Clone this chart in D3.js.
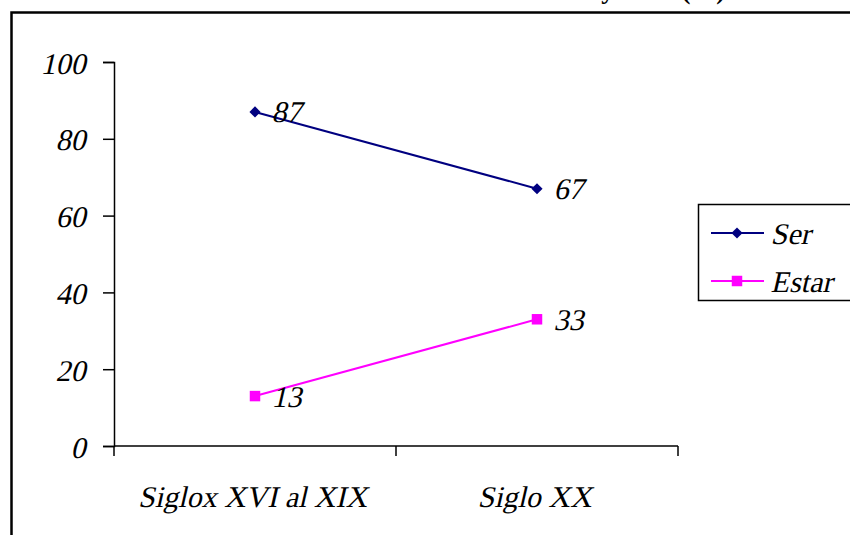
<!DOCTYPE html>
<html>
<head>
<meta charset="utf-8">
<script src="https://cdn.jsdelivr.net/npm/d3@7"></script>
<style>
    body { margin: 0; background: #fff; }
</style>
</head>
<body>
<div id="app"></div>
<script>
const categories = ["Siglox XVI al XIX", "Siglo XX"];
const serValues = [87, 67];
const estarValues = [13, 33];
const yTicks = [0, 20, 40, 60, 80, 100];
const seriesNames = ["Ser", "Estar"];

const serif = "'Liberation Serif', 'DejaVu Serif', serif";

function plotChart() {
    const svgWidth = 850;
    const svgHeight = 535;
    const plot = { left: 114, right: 678, top: 62, bottom: 446 };

    const svg = d3.select("#app").append("svg")
        .attr("width", svgWidth)
        .attr("height", svgHeight);

    // Text placed at a point, slanted by hand like an italic face
    function label(parent, px, py, str, anchor) {
        const g = parent.append("g")
            .attr("transform", "translate(" + px + "," + py + ") skewX(-13)");
        g.append("text")
            .attr("text-anchor", anchor || "start")
            .attr("dy", "0.35em")
            .style("font-family", serif)
            .style("font-size", "30px")
            .attr("fill", "#000")
            .text(str);
        return g;
    }

    // title, almost all of it above the top edge
    svg.append("text")
        .attr("x", 725)
        .attr("y", -1)
        .attr("text-anchor", "end")
        .style("font-family", serif)
        .style("font-weight", "bold")
        .style("font-size", "26px")
        .text("Distribución de ser y estar (%)");

    // outer frame
    svg.append("rect")
        .attr("x", 11.5)
        .attr("y", 12.5)
        .attr("width", 900)
        .attr("height", 600)
        .attr("fill", "none")
        .attr("stroke", "#000")
        .attr("stroke-width", 2.5);

    const x = d3.scaleBand()
        .domain(categories)
        .range([plot.left, plot.right]);

    const y = d3.scaleLinear()
        .domain([0, 100])
        .range([plot.bottom, plot.top]);

    // y axis (labels drawn separately)
    const yAxis = svg.append("g")
        .attr("transform", "translate(" + plot.left + ",0)")
        .call(d3.axisLeft(y).tickValues(yTicks).tickSize(11).tickFormat(""));
    yAxis.select(".domain").attr("stroke-width", 1.5);
    yAxis.selectAll(".tick line").attr("stroke-width", 1.5);
    yTicks.forEach(function(t) {
        label(svg, plot.left - 26, y(t) + 1, t, "end");
    });

    // x axis: ticks between categories, labels at band centres
    const xAxis = svg.append("g")
        .attr("transform", "translate(0," + plot.bottom + ")");
    xAxis.append("line")
        .attr("x1", plot.left)
        .attr("x2", plot.right)
        .attr("stroke", "#000")
        .attr("stroke-width", 1.5);
    xAxis.selectAll(".xtick")
        .data(d3.range(categories.length + 1))
        .enter()
        .append("line")
        .attr("x1", function(d) { return plot.left + d * x.step(); })
        .attr("x2", function(d) { return plot.left + d * x.step(); })
        .attr("y1", 0)
        .attr("y2", 10)
        .attr("stroke", "#000")
        .attr("stroke-width", 1.5);
    categories.forEach(function(c) {
        label(svg, x(c) + x.bandwidth() / 2, plot.bottom + 50, c, "middle");
    });

    const series = [
        { name: seriesNames[0], values: serValues, color: "#000080", shape: "diamond" },
        { name: seriesNames[1], values: estarValues, color: "#FF00FF", shape: "square" }
    ];

    const line = d3.line()
        .x(function(d, i) { return x(categories[i]) + x.bandwidth() / 2; })
        .y(function(d) { return y(d); });

    function marker(g, s) {
        if (s.shape === "diamond") {
            g.append("path")
                .attr("d", d3.symbol(d3.symbolSquare, 62)())
                .attr("transform", "rotate(45)")
                .attr("fill", s.color);
        } else {
            g.append("path")
                .attr("d", d3.symbol(d3.symbolSquare, 110)())
                .attr("fill", s.color);
        }
    }

    series.forEach(function(s) {
        svg.append("path")
            .datum(s.values)
            .attr("d", line)
            .attr("fill", "none")
            .attr("stroke", s.color)
            .attr("stroke-width", 2);

        s.values.forEach(function(v, i) {
            const px = x(categories[i]) + x.bandwidth() / 2;
            const g = svg.append("g")
                .attr("transform", "translate(" + px + "," + y(v) + ")");
            marker(g, s);
            label(svg, px + 19, y(v), v);
        });
    });

    // legend
    svg.append("rect")
        .attr("x", 698.5)
        .attr("y", 204.5)
        .attr("width", 200)
        .attr("height", 96)
        .attr("fill", "#fff")
        .attr("stroke", "#000")
        .attr("stroke-width", 1.5);

    series.forEach(function(s, i) {
        const ly = 233 + i * 48;
        svg.append("line")
            .attr("x1", 711)
            .attr("x2", 764)
            .attr("y1", ly)
            .attr("y2", ly)
            .attr("stroke", s.color)
            .attr("stroke-width", 2);
        const g = svg.append("g")
            .attr("transform", "translate(737," + ly + ")");
        marker(g, s);
        label(svg, 773, ly, s.name);
    });
}

plotChart();
</script>
</body>
</html>
